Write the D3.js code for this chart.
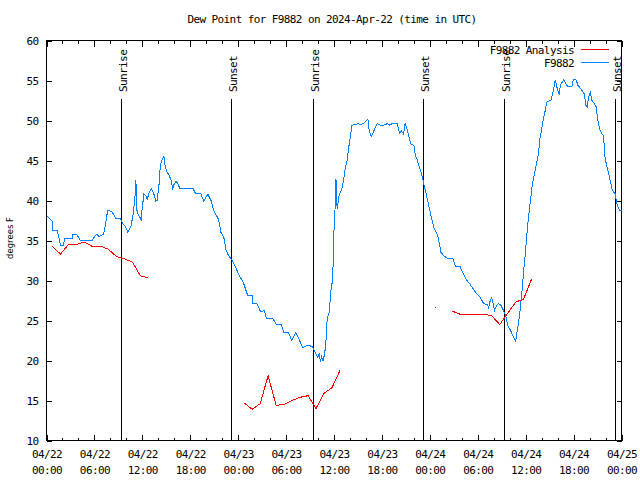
<!DOCTYPE html>
<html><head><meta charset="utf-8">
<script src="https://cdn.jsdelivr.net/npm/d3@7"></script>
<style>
body{margin:0;background:#fff;}
svg{display:block;}
.mono{font-family:"DejaVu Sans Mono",monospace;font-size:11px;letter-spacing:-0.6px;fill:#000;}
</style></head>
<body><svg id="c" width="640" height="480"></svg>
<script>
// ---- data (hours since 2024-04-22 00:00 UTC) ----
const obsHours = [0.1,0.75,0.8,1.35,1.75,2.15,2.25,3.25,3.3,3.75,
4.25,5.7,6.25,6.6,7.15,7.4,7.6,7.7,8.2,8.7,
9.25,9.6,9.9,10.2,10.6,10.85,11.15,11.2,11.25,11.35,
11.7,11.85,12.0,12.2,12.45,12.6,12.85,13.15,13.45,13.7,
13.85,14.1,14.25,14.45,14.7,14.85,15.1,15.35,15.6,15.8,
16.0,16.25,16.45,16.7,18.35,18.65,19.3,19.7,20.2,20.6,
20.95,21.35,21.55,21.85,22.2,22.5,22.8,23.25,23.65,24.05,
24.5,24.7,25.2,25.75,25.8,26.35,26.8,27.3,27.55,28.35,
28.8,29.4,29.7,30.3,30.7,31.2,31.6,32.1,32.7,33.3,
33.55,33.95,34.15,34.3,34.45,34.65,34.95,35.15,35.45,35.55,
35.75,35.9,36.0,36.2,36.25,36.3,36.4,36.6,36.7,37.0,
37.2,37.4,37.65,37.85,38.05,38.25,38.65,38.95,39.3,39.7,
40.0,40.25,40.4,40.65,40.9,41.4,41.8,42.2,42.65,43.0,
43.25,43.9,44.2,44.45,44.7,44.9,45.05,45.35,45.65,46.0,
46.2,46.4,46.6,46.9,47.2,47.55,47.85,48.15,48.55,49.0,
49.4,49.75,50.15,50.9,51.2,51.8,52.2,52.65,53.05,53.4,
53.9,54.3,54.75,55.25,55.35,55.5,55.75,55.9,56.1,56.35,
56.6,56.9,57.25,57.55,57.75,58.1,58.5,58.75,58.95,59.15,
59.35,59.55,59.75,59.95,60.15,60.35,60.6,60.85,61.1,61.35,
61.6,61.75,62.05,62.25,62.45,62.65,63.2,63.4,63.6,63.7,
63.9,64.2,64.35,64.75,65.25,65.8,65.95,66.3,66.55,66.85,
67.05,67.35,67.55,67.7,67.9,68.1,68.3,68.6,68.85,69.0,
69.25,69.55,69.75,69.95,70.25,70.5,70.8,71.0,71.2,71.4,
71.75,72.0];
const obsDew = [38.0,37.4,36.3,36.3,34.4,34.4,35.3,35.3,35.8,35.8,
35.0,35.0,35.8,35.5,35.8,37.1,38.4,38.75,38.6,37.7,
37.7,37.0,36.75,36.0,36.9,38.3,41.25,42.5,40.0,38.5,
37.9,37.6,39.2,40.8,40.6,40.1,41.0,41.5,40.8,39.9,
40.0,42.1,44.4,45.0,45.5,44.4,43.5,43.2,42.5,41.5,
42.1,42.4,42.1,41.5,41.5,40.9,40.9,39.9,40.8,40.0,
38.75,38.0,37.6,36.0,35.4,33.75,33.1,32.5,31.7,30.8,
30.0,29.6,28.1,28.1,27.1,27.1,26.1,26.25,25.2,25.2,
24.5,24.5,23.5,23.5,22.5,23.5,22.7,21.6,21.9,21.75,
21.25,20.4,20.8,19.8,20.5,19.9,21.7,25.2,26.25,28.3,
29.6,32.1,36.25,40.4,42.7,40.4,39.0,40.4,40.8,41.5,
42.5,44.0,45.0,46.7,47.9,49.4,49.5,49.6,49.5,49.6,
49.9,50.2,48.75,48.0,48.5,49.6,49.4,49.4,49.6,49.4,
49.6,49.6,48.4,48.7,48.3,49.6,49.25,48.1,47.0,46.9,
45.6,45.2,44.4,43.5,42.3,40.8,39.4,38.1,36.5,35.6,
33.5,33.1,32.8,32.7,31.75,31.7,30.8,30.0,29.5,29.0,
28.3,27.9,27.1,27.0,26.5,27.3,27.9,27.2,26.25,26.9,
27.1,26.9,26.2,25.4,24.4,23.75,22.9,22.4,23.75,25.0,
26.7,28.75,31.25,33.3,35.8,37.9,40.0,42.1,43.3,44.6,
45.8,47.5,49.2,50.4,51.25,52.3,52.6,53.5,54.4,55.1,
54.2,53.25,54.4,55.1,54.25,54.25,55.1,55.1,54.4,54.0,
53.75,53.3,51.9,51.7,53.0,53.5,52.5,52.1,51.7,50.2,
49.0,48.3,48.1,45.2,43.96,42.9,41.5,41.0,40.9,39.6,
38.8,38.8];

const anaHours = d3.range(0.75, 61, 1);
const anaDew = [34.25,33.3,34.5,34.5,34.8,34.25,34.3,33.9,33.0,32.7,32.3,30.6,30.3,
null,null,null,null,null,null,null,null,null,null,null,
14.7,13.9,14.6,18.1,14.4,14.5,15.0,15.4,15.6,14.0,15.9,16.6,18.75,
null,null,null,null,null,null,null,null,null,null,null,
26.6,null,26.2,25.8,25.75,25.8,25.8,25.6,24.5,25.9,27.3,27.7,30.2];

const sunriseHours = [9.45, 33.45, 57.4];
const sunsetHours = [23.25, 47.25, 71.3];

const majorTicks = d3.range(0, 73, 6);
const minorTicks = d3.range(0, 73, 2);
const tickDates = ["04/22","04/22","04/22","04/22","04/23","04/23","04/23","04/23","04/24","04/24","04/24","04/24","04/25"];
const tickTimes = ["00:00","06:00","12:00","18:00","00:00","06:00","12:00","18:00","00:00","06:00","12:00","18:00","00:00"];
const yTicks = [10,15,20,25,30,35,40,45,50,55,60];

const titleText = "Dew Point for F9882 on 2024-Apr-22 (time in UTC)";
const seriesNames = ["F9882 Analysis", "F9882"];
const seriesColors = ["#ff0000", "#0080ff"];

// ---- drawing ----
const svg = d3.select("#c");
const L = 46.5, R = 621.5, T = 40.5, B = 440.5;
const x = d3.scaleLinear().domain([0,72]).range([L,R]);
const y = d3.scaleLinear().domain([10,60]).range([B,T]);

svg.append("rect").attr("width",640).attr("height",480).attr("fill","#fff");

// axes ticks
const gB = svg.append("g").attr("transform",`translate(0,${B})`);
gB.call(d3.axisBottom(x).tickValues(minorTicks).tickSize(-3).tickSizeOuter(0).tickFormat(""));
const gB2 = svg.append("g").attr("transform",`translate(0,${B})`);
gB2.call(d3.axisBottom(x).tickValues(majorTicks).tickSize(-6).tickSizeOuter(0).tickFormat((d,i)=>i));
const gT = svg.append("g").attr("transform",`translate(0,${T})`);
gT.call(d3.axisTop(x).tickValues(minorTicks).tickSize(-3).tickSizeOuter(0).tickFormat(""));
const gT2 = svg.append("g").attr("transform",`translate(0,${T})`);
gT2.call(d3.axisTop(x).tickValues(majorTicks).tickSize(-6).tickSizeOuter(0).tickFormat(""));
const gL = svg.append("g").attr("transform",`translate(${L},0)`);
gL.call(d3.axisLeft(y).tickValues(yTicks).tickSize(-5).tickSizeOuter(0).tickPadding(8).tickFormat(d3.format("d")));
const gR = svg.append("g").attr("transform",`translate(${R},0)`);
gR.call(d3.axisRight(y).tickValues(yTicks).tickSize(-5).tickSizeOuter(0).tickFormat(""));

svg.selectAll(".domain").remove();
svg.selectAll(".tick line").attr("stroke","#000").attr("shape-rendering","crispEdges");
svg.selectAll(".tick text").attr("class","mono").attr("font-family",null).attr("font-size",null);
gL.selectAll(".tick text").attr("dy","0.36em");

gB2.selectAll(".tick text").each(function(d,i){
  const t = d3.select(this);
  t.text(null).attr("y",null).attr("dy",null).attr("text-anchor","middle");
  t.append("tspan").attr("x",0).attr("y",17).text(tickDates[i]);
  t.append("tspan").attr("x",0).attr("y",33).text(tickTimes[i]);
});

// frame
svg.append("rect").attr("x",L).attr("y",T).attr("width",R-L).attr("height",B-T)
  .attr("fill","none").attr("stroke","#000").attr("shape-rendering","crispEdges");

// sunrise / sunset markers
const events = sunriseHours.map(h=>({h,label:"Sunrise"})).concat(sunsetHours.map(h=>({h,label:"Sunset"})));
const ev = svg.append("g").selectAll("g").data(events).join("g");
ev.append("line").attr("x1",d=>Math.round(x(d.h))-0.5).attr("x2",d=>Math.round(x(d.h))-0.5)
  .attr("y1",99).attr("y2",B).attr("stroke","#000").attr("shape-rendering","crispEdges");
ev.append("text").attr("class","mono").attr("text-anchor","start")
  .attr("transform",d=>`translate(${Math.round(x(d.h))+5},92) rotate(-90)`).text(d=>d.label);

// series
const line = d3.line().defined(d=>d[1]!=null).x(d=>x(d[0])).y(d=>y(d[1]));
const anaData = anaHours.map((h,i)=>[h,anaDew[i]]);
const obsData = obsHours.map((h,i)=>[h,obsDew[i]]);
svg.append("path").datum(anaData).attr("d",line).attr("fill","none")
  .attr("stroke",seriesColors[0]).attr("stroke-width",1).attr("shape-rendering","crispEdges");
// isolated analysis points
const isolated = anaData.filter((d,i)=>d[1]!=null && (i===0||anaDew[i-1]==null) && (i===anaDew.length-1||anaDew[i+1]==null));
svg.append("g").selectAll("rect").data(isolated).join("rect")
  .attr("x",d=>Math.round(x(d[0]))-1).attr("y",d=>Math.round(y(d[1]))-1).attr("width",1).attr("height",1)
  .attr("fill",seriesColors[0]);
svg.append("path").datum(obsData).attr("d",line).attr("fill","none")
  .attr("stroke",seriesColors[1]).attr("stroke-width",1).attr("shape-rendering","crispEdges");

// legend
const leg = svg.append("g").selectAll("g").data(seriesNames).join("g")
  .attr("transform",(d,i)=>`translate(0,${49.5+i*13})`);
leg.append("text").attr("class","mono").attr("x",574).attr("y",4.5).attr("text-anchor","end").text(d=>d);
leg.append("line").attr("x1",581).attr("x2",609).attr("y1",0).attr("y2",0)
  .attr("stroke",(d,i)=>seriesColors[i]).attr("shape-rendering","crispEdges");

// title and y label
svg.append("text").attr("class","mono").attr("x",332).attr("y",23).attr("text-anchor","middle").text(titleText);
svg.append("text").attr("transform","translate(13,238) rotate(-90)").attr("text-anchor","middle")
  .attr("font-family","DejaVu Sans").attr("font-size","8.5px").text("degrees F");
</script></body></html>
